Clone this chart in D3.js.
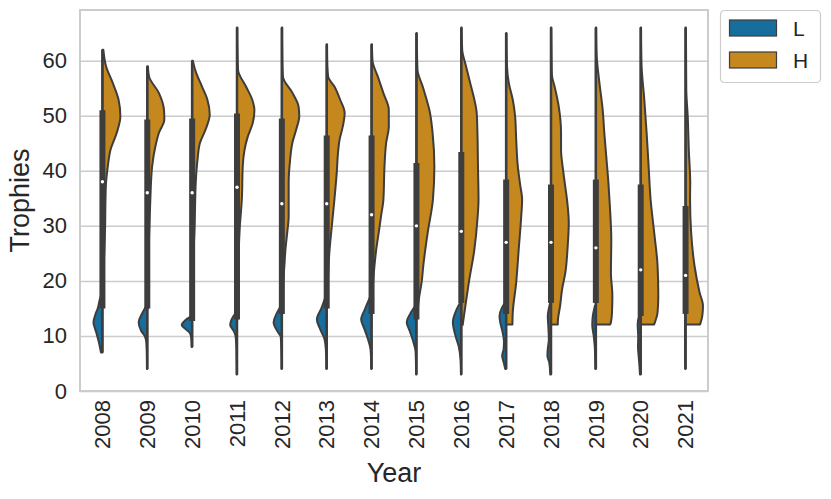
<!DOCTYPE html>
<html>
<head>
<meta charset="utf-8">
<script src="https://cdn.jsdelivr.net/npm/d3@7"></script>
<style>
  body { margin: 0; background: #fff; }
  svg { font-family: "Liberation Sans", Arial, sans-serif; }
</style>
</head>
<body>
<script>
// categories and ticks
const years = ["2008","2009","2010","2011","2012","2013","2014","2015","2016","2017","2018","2019","2020","2021"];
const yTicks = [0, 10, 20, 30, 40, 50, 60];
const hueLevels = ["L", "H"];

// density profiles: [trophies, relative density]
const densityL = [
  [[7,0.08],[8.9,0.2],[10.7,0.35],[12.5,0.5],[14,0.38],[15,0.26],[16.7,0.14],[17.5,0.05]],
  [[4,0.02],[7,0.03],[9,0.06],[10,0.15],[11,0.35],[12.5,0.48],[14,0.3],[15.5,0.05]],
  [[8,0.03],[9.5,0.05],[10.5,0.12],[11.2,0.35],[12,0.58],[12.8,0.4],[13.6,0.05]],
  [[3,0.02],[6,0.03],[8,0.04],[10,0.08],[11,0.2],[12,0.38],[13,0.3],[14.3,0.05]],
  [[4,0.02],[7,0.03],[9.8,0.06],[10.7,0.22],[12.5,0.46],[14,0.3],[15.5,0.05]],
  [[4,0.02],[6,0.03],[7.6,0.05],[9.4,0.12],[11.2,0.36],[13,0.55],[15,0.3],[17.3,0.05]],
  [[4,0.02],[6,0.03],[7.6,0.06],[9.4,0.2],[11.2,0.39],[13,0.58],[15,0.35],[17.3,0.05]],
  [[3,0.02],[5.5,0.03],[7.3,0.05],[8.9,0.17],[10.7,0.35],[12.5,0.54],[14,0.35],[15.5,0.05]],
  [[3,0.02],[5.5,0.04],[8.2,0.15],[10,0.32],[12.5,0.47],[14.5,0.3],[16.1,0.05]],
  [[4,0.05],[5,0.12],[6.4,0.22],[7.6,0.14],[9,0.12],[10.7,0.2],[12.5,0.33],[13.6,0.37],[15,0.25],[16.1,0.05]],
  [[3,0.04],[5.2,0.1],[6.4,0.2],[7.6,0.18],[9.4,0.12],[11.8,0.15],[13.6,0.18],[15,0.12],[16.1,0.04]],
  [[4,0.03],[6,0.04],[8,0.06],[10,0.12],[12,0.2],[13.6,0.17],[15.5,0.05]],
  [[3,0.04],[5,0.08],[6.5,0.12],[8,0.15],[10,0.14],[12,0.17],[14.3,0.05]],
  [[4,0.02],[6,0.03],[8,0.03],[10,0.03],[12,0.03],[13.9,0.02]]
];
const densityH = [
  [[21,0.04],[25,0.1],[30,0.15],[34.8,0.17],[37.8,0.2],[40.8,0.3],[43.8,0.45],[46.9,0.8],[49.9,1.0],[52.9,0.9],[56,0.57],[59,0.2],[62,0.05]],
  [[15,0.02],[20,0.04],[25,0.07],[30,0.12],[34.8,0.17],[40.8,0.27],[44.4,0.45],[46.9,0.65],[49.3,0.95],[51.1,0.93],[54.1,0.65],[57.1,0.1],[59,0.03]],
  [[13,0.02],[15,0.03],[20,0.05],[25,0.08],[30,0.14],[34.8,0.17],[37.8,0.2],[42,0.3],[45,0.43],[47.5,0.75],[50.2,0.98],[52.9,0.85],[55.3,0.55],[58,0.2],[60,0.04]],
  [[13,0.02],[15,0.03],[20,0.05],[25,0.09],[30,0.16],[34.8,0.27],[40.8,0.32],[43.8,0.42],[46.2,0.6],[48.7,0.88],[51,0.97],[52.9,0.85],[55.3,0.5],[58.3,0.06],[62,0.03],[66,0.02]],
  [[14,0.02],[16,0.03],[19,0.06],[22.7,0.14],[25.7,0.2],[28.8,0.3],[31.8,0.38],[34.8,0.38],[37.8,0.38],[42,0.46],[45,0.58],[47.5,0.8],[49.9,0.97],[51.7,0.93],[54.1,0.6],[57.1,0.06],[61,0.03],[66,0.02]],
  [[15,0.02],[18,0.04],[22.7,0.1],[25.7,0.16],[28.8,0.25],[31.8,0.34],[34.8,0.43],[39.7,0.56],[43.3,0.63],[45.7,0.72],[48.1,0.9],[50.5,1.0],[52.9,0.75],[55.3,0.43],[57.1,0.08],[60,0.03],[63,0.02]],
  [[15,0.03],[19,0.07],[22.7,0.16],[25.7,0.26],[28.8,0.4],[31.8,0.53],[34.8,0.66],[40.8,0.72],[45,0.81],[48.1,0.96],[51.1,0.96],[54.1,0.66],[57.1,0.35],[60,0.05],[63,0.02]],
  [[13,0.02],[14,0.05],[17,0.15],[20,0.3],[22.7,0.38],[28.8,0.63],[34.8,0.92],[40.8,1.0],[46.9,0.9],[51.1,0.72],[52.9,0.57],[55.3,0.35],[58.3,0.06],[62,0.03],[65,0.02]],
  [[12,0.08],[12.5,0.1],[15.5,0.23],[19.7,0.42],[25.7,0.73],[31.2,0.9],[34.8,0.96],[40.8,0.93],[46.9,0.9],[50.5,0.86],[52.9,0.73],[55.9,0.5],[58.9,0.27],[62,0.05],[66,0.02]],
  [[12.1,0.35],[14.3,0.37],[19.7,0.56],[25.7,0.7],[31.2,0.83],[34.8,0.89],[37.5,0.78],[40.8,0.65],[45.7,0.56],[49.9,0.5],[52.9,0.37],[55.9,0.15],[58.9,0.05],[62,0.03],[65,0.02]],
  [[12.1,0.38],[12.5,0.38],[15.5,0.51],[18.5,0.62],[21.5,0.8],[26.3,0.93],[30.6,0.99],[33.6,0.93],[39.7,0.69],[43.8,0.56],[46.9,0.56],[51.7,0.43],[55.3,0.2],[57.4,0.05],[62,0.03],[66,0.02]],
  [[12.1,0.8],[12.5,0.84],[14.3,0.9],[17.3,0.92],[21.5,0.84],[27.5,0.86],[33.6,0.78],[37.8,0.7],[42.6,0.58],[46.9,0.47],[51.1,0.38],[55.9,0.2],[60.7,0.05],[63,0.03],[66,0.02]],
  [[12.1,0.75],[14.3,0.94],[17.3,0.98],[22.7,0.94],[28.8,0.75],[34.8,0.55],[40.8,0.44],[46.9,0.33],[52.9,0.2],[58.9,0.05],[62,0.03],[66,0.02]],
  [[12.1,0.81],[13.6,0.93],[15.5,0.97],[17.9,0.78],[22.7,0.5],[28.8,0.31],[34.8,0.25],[37.8,0.26],[43.8,0.18],[49.9,0.12],[54.7,0.04],[60,0.03],[66,0.02]]
];

// inner box statistics (both hues together)
const boxQ1 = [15, 15, 12.7, 13, 14, 15, 14, 13, 16, 14, 16, 16, 13.6, 14];
const boxMedian = [38, 36, 36, 37, 34, 34, 32, 30, 29, 27, 27, 26, 22, 21];
const boxQ3 = [51, 49.3, 49.5, 50.4, 49.5, 46.4, 46.4, 41.4, 43.4, 38.4, 37.5, 38.4, 37.5, 33.6];
const dataMin = [7, 4, 8, 3, 4, 4, 4, 3, 3, 4, 3, 4, 3, 4];
const dataMax = [62, 59, 60, 66, 66, 63, 63, 65, 66, 65, 66, 66, 66, 66];

window.onload = function () {
  let width = 831;
  let height = 499;
  let margin = { top: 10, right: 123, bottom: 108, left: 80 };
  let plotW = width - margin.left - margin.right;
  let plotH = height - margin.top - margin.bottom;

  let colors = { L: "#176d9c", H: "#c4881f" };
  let edge = "#3d3d3d";
  let textColor = "#262626";
  let gridColor = "#cccccc";

  let svg = d3.select("body").append("svg")
    .attr("width", width)
    .attr("height", height);

  let x = d3.scaleBand()
    .domain(years)
    .range([margin.left, margin.left + plotW])
    .padding(0);
  let y = d3.scaleLinear()
    .domain([0, 69.2])
    .range([margin.top + plotH, margin.top]);
  let w = d3.scaleLinear()
    .domain([0, 1])
    .range([0, x.bandwidth() * 0.4]);

  // grid + y axis
  svg.append("g")
    .attr("transform", `translate(${margin.left},0)`)
    .call(d3.axisLeft(y).tickValues(yTicks).tickSize(-plotW).tickPadding(13))
    .call(g => g.select(".domain").remove())
    .call(g => g.selectAll(".tick line").attr("stroke", gridColor).attr("stroke-width", 1.5))
    .call(g => g.selectAll("text")
      .attr("fill", textColor)
      .attr("font-size", 22)
      .attr("font-family", "Liberation Sans, Arial, sans-serif"));

  // x axis
  svg.append("g")
    .attr("transform", `translate(0,${margin.top + plotH})`)
    .call(d3.axisBottom(x).tickSize(0))
    .call(g => g.select(".domain").remove())
    .call(g => g.selectAll("text")
      .attr("fill", textColor)
      .attr("font-size", 22)
      .attr("font-family", "Liberation Sans, Arial, sans-serif")
      .attr("transform", "rotate(-90)")
      .attr("text-anchor", "end")
      .attr("x", -9)
      .attr("y", 0)
      .attr("dy", "0.35em"));

  // frame
  svg.append("rect")
    .attr("x", margin.left)
    .attr("y", margin.top)
    .attr("width", plotW)
    .attr("height", plotH)
    .attr("fill", "none")
    .attr("stroke", gridColor)
    .attr("stroke-width", 2);

  // violins
  let violins = svg.append("g");
  years.forEach(function (yr, i) {
    let cx = x(yr) + x.bandwidth() / 2;
    let areaL = d3.area()
      .curve(d3.curveMonotoneY)
      .y(d => y(d[0]))
      .x0(cx)
      .x1(d => cx - w(d[1]));
    let areaH = d3.area()
      .curve(d3.curveMonotoneY)
      .y(d => y(d[0]))
      .x0(cx)
      .x1(d => cx + w(d[1]));
    let g = violins.append("g");
    g.append("path")
      .attr("d", areaL(densityL[i]))
      .attr("fill", colors.L)
      .attr("stroke", edge)
      .attr("stroke-width", 2)
      .attr("stroke-linejoin", "round");
    g.append("path")
      .attr("d", areaH(densityH[i]))
      .attr("fill", colors.H)
      .attr("stroke", edge)
      .attr("stroke-width", 2)
      .attr("stroke-linejoin", "round");
    // inner box
    g.append("line")
      .attr("x1", cx).attr("x2", cx)
      .attr("y1", y(dataMin[i])).attr("y2", y(dataMax[i]))
      .attr("stroke", edge)
      .attr("stroke-width", 2.5);
    g.append("line")
      .attr("x1", cx).attr("x2", cx)
      .attr("y1", y(boxQ1[i])).attr("y2", y(boxQ3[i]))
      .attr("stroke", edge)
      .attr("stroke-width", 6);
    g.append("circle")
      .attr("cx", cx)
      .attr("cy", y(boxMedian[i]))
      .attr("r", 1.7)
      .attr("fill", "#fff");
  });

  // axis titles
  svg.append("text")
    .attr("x", margin.left + plotW / 2)
    .attr("y", 482)
    .attr("text-anchor", "middle")
    .attr("font-size", 27)
    .attr("fill", textColor)
    .text("Year");
  svg.append("text")
    .attr("transform", `translate(29,${margin.top + plotH / 2}) rotate(-90)`)
    .attr("text-anchor", "middle")
    .attr("font-size", 27)
    .attr("fill", textColor)
    .text("Trophies");

  // legend
  let legend = svg.append("g").attr("transform", "translate(720,10)");
  legend.append("rect")
    .attr("x", 0.5).attr("y", 0.5)
    .attr("width", 100).attr("height", 72)
    .attr("rx", 4)
    .attr("fill", "#fff")
    .attr("stroke", gridColor)
    .attr("stroke-width", 1.2);
  hueLevels.forEach(function (h, i) {
    legend.append("rect")
      .attr("x", 9.5).attr("y", 10 + i * 32)
      .attr("width", 47).attr("height", 16)
      .attr("fill", colors[h])
      .attr("stroke", edge)
      .attr("stroke-width", 1.2);
    legend.append("text")
      .attr("x", 73)
      .attr("y", 26 + i * 32)
      .attr("font-size", 21)
      .attr("fill", textColor)
      .text(h);
  });
};
</script>
</body>
</html>
